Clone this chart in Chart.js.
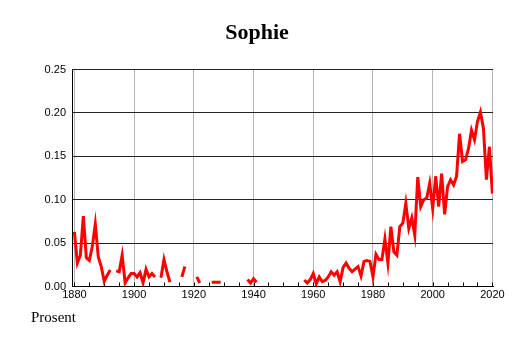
<!DOCTYPE html>
<html>
<head>
<meta charset="utf-8">
<title>Sophie</title>
<script src="https://cdn.jsdelivr.net/npm/chart.js@4.4.0/dist/chart.umd.min.js"></script>
<style>
  html, body { margin: 0; padding: 0; background: #fff; }
  #chart { display: block; }
</style>
</head>
<body>
<canvas id="chart" width="514" height="343"></canvas>
<script>
const years = [
  1880, 1881, 1882, 1883, 1884, 1885, 1886, 1887, 1888, 1889,
  1890, 1891, 1892, 1893, 1894, 1895, 1896, 1897, 1898, 1899,
  1900, 1901, 1902, 1903, 1904, 1905, 1906, 1907, 1908, 1909,
  1910, 1911, 1912, 1913, 1914, 1915, 1916, 1917, 1918, 1919,
  1920, 1921, 1922, 1923, 1924, 1925, 1926, 1927, 1928, 1929,
  1930, 1931, 1932, 1933, 1934, 1935, 1936, 1937, 1938, 1939,
  1940, 1941, 1942, 1943, 1944, 1945, 1946, 1947, 1948, 1949,
  1950, 1951, 1952, 1953, 1954, 1955, 1956, 1957, 1958, 1959,
  1960, 1961, 1962, 1963, 1964, 1965, 1966, 1967, 1968, 1969,
  1970, 1971, 1972, 1973, 1974, 1975, 1976, 1977, 1978, 1979,
  1980, 1981, 1982, 1983, 1984, 1985, 1986, 1987, 1988, 1989,
  1990, 1991, 1992, 1993, 1994, 1995, 1996, 1997, 1998, 1999,
  2000, 2001, 2002, 2003, 2004, 2005, 2006, 2007, 2008, 2009,
  2010, 2011, 2012, 2013, 2014, 2015, 2016, 2017, 2018, 2019,
  2020
];

// percent of newborn girls named Sophie, null = no data (gap in line)
const sophie = [
  0.063, 0.027, 0.036, 0.081, 0.033, 0.030, 0.046, 0.072, 0.034, 0.023,
  0.006, 0.013, 0.019, null, 0.018, 0.017, 0.036, 0.004, 0.010, 0.015,
  0.015, 0.011, 0.016, 0.004, 0.020, 0.011, 0.015, 0.011, null, 0.010,
  0.031, 0.017, 0.005, null, null, null, 0.011, 0.023, null, null,
  null, 0.011, 0.004, null, null, null, 0.005, 0.005, 0.005, 0.005,
  null, null, null, null, null, null, null, null, 0.008, 0.004,
  0.009, 0.005, null, null, null, null, null, null, null, null,
  null, null, null, null, null, null, null, 0.0075, 0.004, 0.008,
  0.015, 0.003, 0.011, 0.0055, 0.007, 0.011, 0.017, 0.013, 0.017, 0.0055,
  0.022, 0.027, 0.021, 0.017, 0.020, 0.023, 0.012, 0.029, 0.030, 0.029,
  0.011, 0.037, 0.031, 0.031, 0.055, 0.027, 0.069, 0.040, 0.036, 0.069,
  0.073, 0.096, 0.067, 0.079, 0.059, 0.126, 0.092, 0.100, 0.102, 0.119,
  0.090, 0.127, 0.092, 0.130, 0.083, 0.115, 0.123, 0.117, 0.127, 0.176,
  0.144, 0.146, 0.159, 0.180, 0.169, 0.190, 0.201, 0.182, 0.123, 0.161,
  0.107
];

const xTicks = [1880, 1900, 1920, 1940, 1960, 1980, 2000, 2020];
const yTicks = [0, 0.05, 0.1, 0.15, 0.2, 0.25];

const tickFont = { family: "Liberation Sans", size: 11 };

// small inward tick marks every 5 years along the bottom axis
const minorTicks = {
  id: "minorTicks",
  beforeDatasetsDraw(chart) {
    const { ctx, chartArea, scales: { x } } = chart;
    ctx.save();
    ctx.strokeStyle = "#000";
    ctx.lineWidth = 1;
    ctx.beginPath();
    for (let year = xTicks[0]; year <= xTicks[xTicks.length - 1]; year += 5) {
      const px = Math.round(x.getPixelForValue(year)) + 0.5;
      ctx.moveTo(px, chartArea.bottom);
      ctx.lineTo(px, chartArea.bottom - 4);
    }
    ctx.stroke();
    ctx.restore();
  }
};

const caption = {
  id: "caption",
  afterDraw(chart) {
    const { ctx, chartArea } = chart;
    ctx.save();
    ctx.font = '15px "Liberation Serif"';
    ctx.fillStyle = "#000";
    ctx.textBaseline = "alphabetic";
    ctx.fillText("Prosent", 31, chartArea.bottom + 35.5);
    ctx.restore();
  }
};

new Chart(document.getElementById("chart"), {
  type: "line",
  data: {
    datasets: [
      {
        label: "Sophie",
        data: years.map((year, i) => ({ x: year, y: sophie[i] })),
        borderColor: "#ff0000",
        backgroundColor: "#ff0000",
        borderWidth: 3,
        pointRadius: 0,
        tension: 0,
        spanGaps: false,
      }
    ],
  },
  options: {
    responsive: false,
    animation: false,
    layout: { padding: { left: 21, right: 21, top: 0, bottom: 0 } },
    plugins: {
      legend: { display: false },
      tooltip: { enabled: false },
      title: {
        display: true,
        text: "Sophie",
        color: "#000",
        font: { family: "Liberation Serif", size: 22, weight: "bold", lineHeight: 1.2 },
        padding: { top: 19.8, bottom: 23.3 },
      },
    },
    scales: {
      x: {
        type: "linear",
        min: 1879.2,
        max: 2020.2,
        afterBuildTicks: (scale) => {
          scale.ticks = xTicks.map((value) => ({ value }));
        },
        afterFit: (scale) => {
          scale.height = 56.5;
        },
        ticks: {
          callback: (value) => String(value),
          color: "#000",
          font: tickFont,
          padding: 2,
          maxRotation: 0,
          autoSkip: false,
        },
        grid: { color: "#b4b4b4", lineWidth: 1, drawTicks: false },
        border: { color: "#000", width: 1 },
      },
      y: {
        min: 0,
        max: 0.25,
        afterBuildTicks: (scale) => {
          scale.ticks = yTicks.map((value) => ({ value }));
        },
        afterFit: (scale) => {
          scale.width = 51;
        },
        ticks: {
          callback: (value) => value.toFixed(2),
          color: "#000",
          font: tickFont,
          padding: 6,
        },
        grid: { color: "#222", lineWidth: 1, drawTicks: false },
        border: { color: "#000", width: 1 },
      },
    },
  },
  plugins: [minorTicks, caption],
});
</script>
</body>
</html>
